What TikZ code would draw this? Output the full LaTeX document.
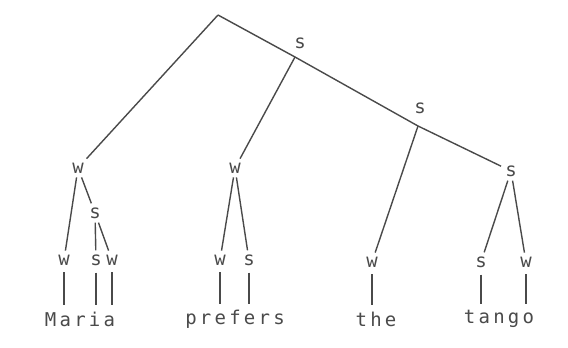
\documentclass[tikz,border=0pt]{standalone}
\usepackage{fontspec}
\usepackage{tikz}
\newfontfamily\treefont[LetterSpace=17]{DejaVu Sans Mono}
\definecolor{inkgrey}{HTML}{4A4A4A}
\tikzset{node distance=2.0cm, auto}

\begin{document}
\begin{tikzpicture}[
  x=1pt, y=-1pt,
  every node/.style={font=\treefont\fontsize{19}{19}\selectfont, text=inkgrey},
  lab/.style={inner sep=4pt},
  word/.style={inner sep=2pt},
  branch/.style={draw=inkgrey, line width=1.4pt},
  bar/.style={draw=inkgrey, line width=1.4pt, shorten <=3pt, shorten >=4pt}
]
\useasboundingbox (0,0) rectangle (568,348);
% spine
\coordinate (root) at (218,15);
\coordinate (b1) at (295,57);
\coordinate (b2) at (418,126);
\node[lab] (s1) at (300,43) {s};
\node[lab] (s2) at (420,108) {s};
\node[lab] (s3) at (511,171) {s};
% second level
\node[lab] (wM) at (78,168) {w};
\node[lab] (wP) at (235,168) {w};
\node[lab] (sM) at (95,213) {s};
% leaves
\node[lab] (l1) at (64,260) {w};
\node[lab] (l2) at (96,260) {s};
\node[lab] (l3) at (112,260) {w};
\node[lab] (l4) at (220,260) {w};
\node[lab] (l5) at (249,260) {s};
\node[lab] (l6) at (372,262) {w};
\node[lab] (l7) at (481,262) {s};
\node[lab] (l8) at (526,262) {w};
% words
\node[word] (maria) at (80,319) {Maria};
\node[word] (prefers) at (235,319) {prefers};
\node[word] (the) at (376,319) {the};
\node[word] (tango) at (499,319) {tango};

\draw[branch] (root) -- (wM);
\draw[branch] (root) -- (b1) -- (b2) -- (s3);
\draw[branch] (b1) -- (wP);
\draw[branch] (b2) -- (l6);
\draw[branch] (wM) -- (l1);
\draw[branch] (wM) -- (sM);
\draw[branch] (sM) -- (l2);
\draw[branch] (sM) -- (l3);
\draw[branch] (wP) -- (l4);
\draw[branch] (wP) -- (l5);
\draw[branch] (s3) -- (l7);
\draw[branch] (s3) -- (l8);
% bars down to the words
\foreach \l/\w in {l1/maria, l2/maria, l3/maria, l4/prefers, l5/prefers,
                   l6/the, l7/tango, l8/tango}
  \draw[bar] (\l.south) -- (\l.south |- \w.north);
\end{tikzpicture}
\end{document}
